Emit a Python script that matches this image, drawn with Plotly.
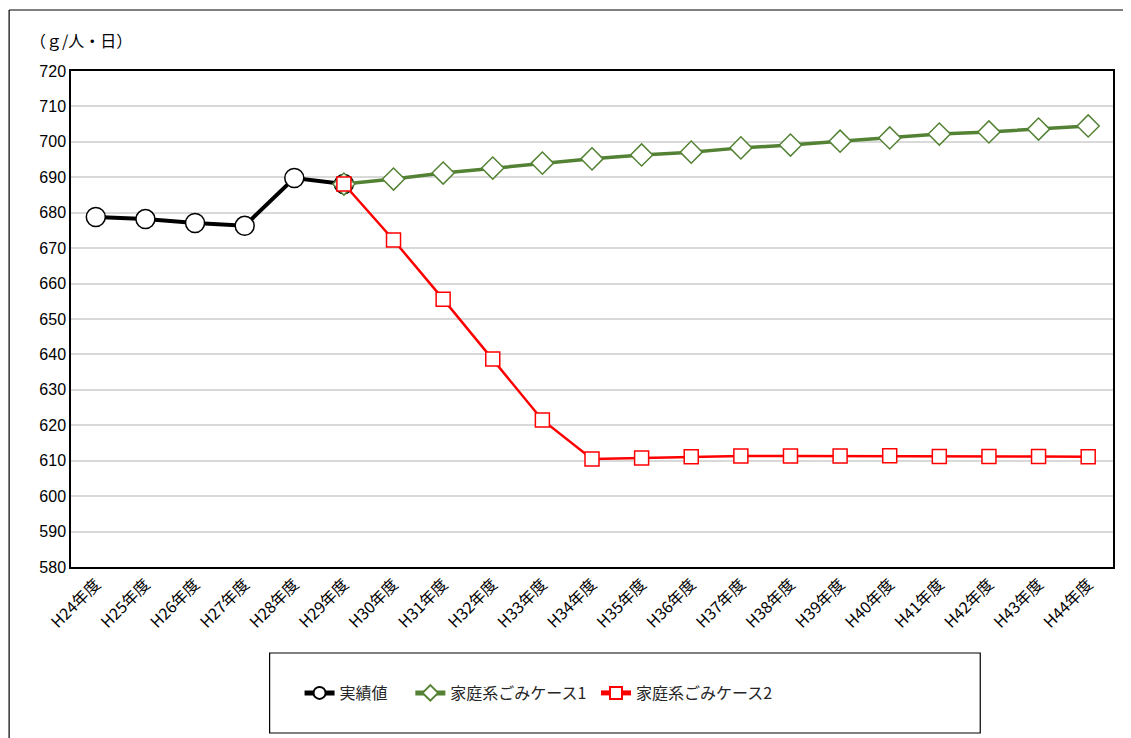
import plotly.graph_objects as go

categories = [f"H{n}年度" for n in range(24, 45)]

actual_x = categories[0:6]
actual_y = [678.8, 678.2, 677.1, 676.3, 689.8, 688.1]

case1_x = categories[5:]
case1_y = [688.1, 689.5, 691.2, 692.6, 694.0, 695.2, 696.3, 697.1, 698.3, 699.1,
           700.2, 701.1, 702.2, 702.8, 703.6, 704.5]

case2_x = categories[5:]
case2_y = [688.1, 672.3, 655.6, 638.7, 621.5, 610.5, 610.8, 611.1, 611.3, 611.3,
           611.3, 611.4, 611.2, 611.2, 611.2, 611.1]

names = ["実績値", "家庭系ごみケース1", "家庭系ごみケース2"]

FONT = "Liberation Sans, Noto Sans CJK JP, sans-serif"
JFONT = "Noto Sans CJK JP, sans-serif"
GREEN = "#548235"
RED = "#ff0000"

fig = go.Figure()
fig.add_trace(go.Scatter(
    x=actual_x, y=actual_y, name=names[0], mode="lines+markers",
    line=dict(color="black", width=4),
    marker=dict(symbol="circle", size=19, color="white", line=dict(color="black", width=1.5)),
    legend="legend", showlegend=True))
fig.add_trace(go.Scatter(
    x=case1_x, y=case1_y, name=names[1], mode="lines+markers",
    line=dict(color=GREEN, width=3.5),
    marker=dict(symbol="diamond", size=17, color="white", line=dict(color=GREEN, width=1.5)),
    legend="legend2", showlegend=True))
fig.add_trace(go.Scatter(
    x=case2_x, y=case2_y, name=names[2], mode="lines+markers",
    line=dict(color=RED, width=2.5),
    marker=dict(symbol="square", size=14, color="white", line=dict(color=RED, width=1.5)),
    legend="legend3", showlegend=True))

# the page body has an 8px margin; shift reference pixel positions accordingly
OFF = 8
W, H = 1131 - 2 * OFF, 738 - OFF
L, T = 71 - OFF, 71 - OFF
R = W + OFF - 1115
B = H + OFF - 567
pw, ph = W - L - R, H - T - B

def px(x):
    return (x - OFF - L) / pw

def py(y):
    return (OFF + H - B - y) / ph

legend_common = dict(orientation="h", bgcolor="rgba(0,0,0,0)", borderwidth=0,
                     font=dict(family=JFONT, size=16, color="#262626"),
                     xanchor="left", yanchor="middle", itemsizing="constant")

frame = dict(color="black", width=1.2)

fig.update_layout(
    width=W, height=H,
    margin=dict(l=L, r=R, t=T, b=B),
    paper_bgcolor="white", plot_bgcolor="white",
    showlegend=True,
    legend=dict(x=px(300), y=py(693), **legend_common),
    legend2=dict(x=px(411), y=py(693), **legend_common),
    legend3=dict(x=px(597), y=py(693), **legend_common),
    xaxis=dict(type="category", categoryorder="array", categoryarray=categories,
               range=[-0.5, len(categories) - 0.5],
               tickangle=-45, showgrid=False, ticks="",
               tickfont=dict(family=JFONT, size=16, color="black"),
               showline=True, linecolor="black", linewidth=1.5, mirror=True),
    yaxis=dict(range=[580, 720], dtick=10, tick0=580, showgrid=True,
               gridcolor="#d9d9d9", gridwidth=1.5, ticks="",
               tickfont=dict(family=FONT, size=16, color="black"),
               showline=True, linecolor="black", linewidth=1.5, mirror=True,
               zeroline=False),
    shapes=[
        # outer chart frame (top and left edges visible in the window)
        dict(type="line", xref="paper", yref="paper",
             x0=px(9), x1=px(1200), y0=py(10), y1=py(10), line=frame, layer="below"),
        dict(type="line", xref="paper", yref="paper",
             x0=px(9), x1=px(9), y0=py(10), y1=py(800), line=frame, layer="below"),
        # legend box
        dict(type="rect", xref="paper", yref="paper",
             x0=px(270), x1=px(982), y0=py(653), y1=py(733),
             line=frame, layer="below"),
    ],
    annotations=[
        dict(text="（ｇ/人・日）", xref="paper", yref="paper", x=px(28), y=py(40),
             xanchor="left", yanchor="middle", showarrow=False,
             font=dict(family=JFONT, size=16, color="black")),
    ],
)

fig.write_html("out.html")
